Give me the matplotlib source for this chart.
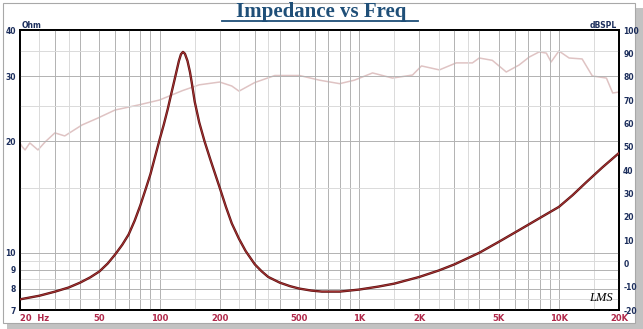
"""Impedance vs Freq chart (LMS style), impedance on left log axis, SPL on right."""

import matplotlib
matplotlib.use("Agg")
import matplotlib.pyplot as plt
from matplotlib.patches import Rectangle

# impedance curve (Hz, ohm)
IMP_FREQ = [20, 25, 30, 35, 40, 45, 50, 55, 60, 65, 70, 75, 80, 85, 90, 95, 100, 105, 110,
            115, 120, 125, 128, 131, 134, 138, 142, 145, 150, 158, 168, 180, 200, 215,
            230, 250, 270, 300, 325, 350, 400, 450, 500, 575, 650, 800, 1000, 1250, 1500,
            2000, 2500, 3000, 4000, 5000, 6300, 8000, 10000, 11700, 13700, 16500, 20000]
IMP_OHM = [7.48, 7.65, 7.85, 8.05, 8.3, 8.58, 8.9, 9.35, 9.9, 10.5, 11.2, 12.2, 13.4, 14.8,
           16.3, 18.2, 20.2, 22.2, 24.5, 27.2, 30.0, 33.0, 34.4, 34.9, 34.5, 33.0, 30.8,
           28.8, 25.6, 22.5, 20.0, 17.8, 15.0, 13.3, 12.0, 10.9, 10.1, 9.3, 8.9, 8.6, 8.3,
           8.12, 8.0, 7.9, 7.85, 7.85, 7.95, 8.1, 8.25, 8.6, 8.95, 9.3, 10.0, 10.7, 11.5,
           12.4, 13.3, 14.3, 15.5, 17.0, 18.6]

# SPL curve (Hz, dB)
SPL_FREQ = [20, 20.5, 21.2, 22.4, 24.6, 26.7, 29.9, 33.5, 40.9, 49.2, 59.8, 79.6, 100,
            130, 158, 200, 230, 250, 300, 378, 502, 632, 798, 946, 1166, 1467, 1849,
            2050, 2520, 3060, 3690, 3990, 4640, 5450, 6320, 7100, 7960, 8650, 9140,
            10000, 11250, 13070, 14700, 17300, 18600, 20000]
SPL_DB = [51.6, 50.0, 48.6, 51.6, 48.6, 52.0, 55.9, 54.6, 59.3, 62.3, 65.7, 68.0, 70.0,
          74.0, 76.5, 77.7, 76.0, 73.8, 77.5, 80.5, 80.5, 78.5, 77.0, 78.5, 81.6, 79.4,
          80.7, 84.6, 82.9, 85.9, 85.9, 88.0, 87.0, 82.0, 85.0, 88.4, 90.6, 90.1, 86.3,
          91.0, 88.0, 87.6, 80.3, 79.4, 73.0, 73.4]

X_TICKS = [20, 50, 100, 200, 500, 1000, 2000, 5000, 10000, 20000]
X_LABELS = ["20  Hz", "50", "100", "200", "500", "1K", "2K", "5K", "10K", "20K"]
Y_TICKS = [7, 8, 9, 10, 20, 30, 40]
DB_TICKS = list(range(-20, 101, 10))

NAVY = "#1c2e5c"
CRIMSON = "#b0284a"

fig = plt.figure(figsize=(6.43, 3.29), dpi=100)
fig.patch.set_facecolor("white")

# outer frame + shadow
fig.patches.append(Rectangle((7 / 643, 0), 636 / 643, 321 / 329, transform=fig.transFigure,
                             facecolor="#9a9a9a", edgecolor="none", zorder=-3, alpha=0.6))
fig.patches.append(Rectangle((3 / 643, 6 / 329), 632 / 643, 320 / 329, transform=fig.transFigure,
                             facecolor="white", edgecolor="#a8a8a8", lw=0.8, zorder=-2))

rect = [20 / 643, 19 / 329, 599 / 643, 280 / 329]
ax2 = fig.add_axes(rect)
ax = fig.add_axes(rect, sharex=ax2)
ax.set_zorder(ax2.get_zorder() + 1)
ax.patch.set_visible(False)

ax.set_xscale("log")
ax.set_yscale("log")
ax.set_xlim(20, 20000)
ax.set_ylim(7, 40)
ax2.set_ylim(-20, 100)

# grid
for dec in [10, 100, 1000, 10000]:
    for m in range(1, 10):
        f = m * dec
        if 20 < f < 20000:
            ax.axvline(f, color="#b2b2b2", lw=0.7, zorder=0)
    for m in [1.5, 2.5, 3.5]:
        f = m * dec
        if 20 < f < 20000:
            ax.axvline(f, color="#dadada", lw=0.7, zorder=0)
for v in [8, 9, 10, 20, 30]:
    ax.axhline(v, color="#b2b2b2", lw=0.7, zorder=0)
for v in [7.5, 8.5, 9.5, 15, 25, 35]:
    ax.axhline(v, color="#dadada", lw=0.7, zorder=0)

ax2.plot(SPL_FREQ, SPL_DB, color="#dfc3c3", lw=1.1)
ax.plot(IMP_FREQ, IMP_OHM, color="#5a1010", lw=1.7, zorder=3)
ax.plot(IMP_FREQ, IMP_OHM, color="#a83434", lw=0.7, zorder=4)

ax.set_xticks(X_TICKS)
ax.set_xticklabels(X_LABELS, fontsize=6, fontweight="bold", color=CRIMSON)
ax.xaxis.set_minor_locator(plt.NullLocator())
ax.get_xticklabels()[0].set_ha("left")
ax.set_yticks(Y_TICKS)
ax.set_yticklabels([str(v) for v in Y_TICKS], fontsize=5.5, fontweight="bold", color=NAVY)
ax.yaxis.set_minor_locator(plt.NullLocator())
ax.tick_params(axis="both", length=0, pad=3)

ax2.yaxis.tick_right()
ax2.set_yticks(DB_TICKS)
ax2.set_yticklabels([str(v) for v in DB_TICKS], fontsize=5.5, fontweight="bold", color=NAVY)
ax2.tick_params(axis="y", length=0, pad=3)
ax2.tick_params(axis="x", length=0, labelbottom=False)

for a in (ax, ax2):
    for s in a.spines.values():
        s.set_color("black")
        s.set_linewidth(1.3)

fig.text(22 / 643, 1 - 25 / 329, "Ohm", fontsize=5.5, fontweight="bold", color=NAVY,
         ha="left", va="center")
fig.text(617 / 643, 1 - 25 / 329, "dBSPL", fontsize=5.5, fontweight="bold", color=NAVY,
         ha="right", va="center")

fig.text(321 / 643, 1 - 12 / 329, "Impedance vs Freq", fontsize=15, fontweight="bold",
         family="Liberation Serif", color="#1f4f78", ha="center", va="center")
fig.lines.append(plt.Line2D([222 / 643, 418 / 643], [1 - 21 / 329, 1 - 21 / 329],
                            transform=fig.transFigure, color="#1f4f78", lw=1.3))

fig.text(601 / 643, 1 - 298 / 329, "LMS", fontsize=9, style="italic",
         family="Liberation Serif", color="black", ha="center", va="center")

fig.savefig("out.png", dpi=100)
